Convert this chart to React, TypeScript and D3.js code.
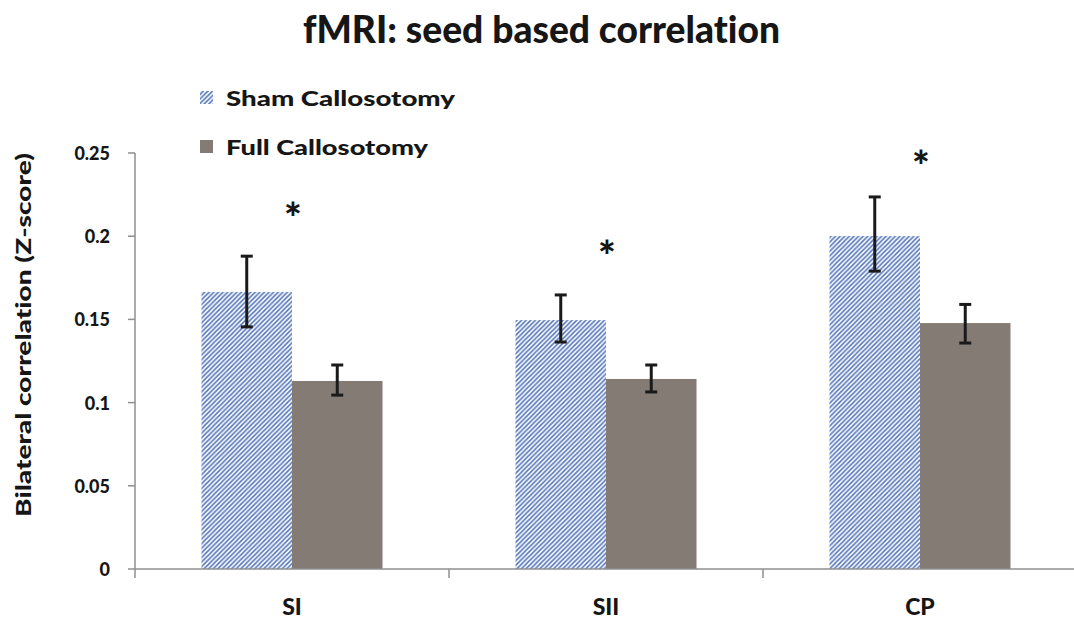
import React from "react";
import * as d3 from "d3";

const categories = ["SI", "SII", "CP"];
const seriesNames = ["Sham Callosotomy", "Full Callosotomy"];
const shamValues = [0.1665, 0.1496, 0.2001];
const shamErrLow = [0.1455, 0.1364, 0.179];
const shamErrHigh = [0.188, 0.1647, 0.2236];
const fullValues = [0.113, 0.1142, 0.1478];
const fullErrLow = [0.1045, 0.1064, 0.1358];
const fullErrHigh = [0.1226, 0.1226, 0.159];
const yTicks = [0, 0.05, 0.1, 0.15, 0.2, 0.25];
const starValues = [0.2163, 0.1935, 0.2476];

const W = 1074;
const H = 619;
const FONT = "Lato, 'Open Sans', sans-serif";
const GRAY = "#847b74";
const BLUE = "#5b7bbd";
const AXIS = "#8f8f8f";
const INK = "#161616";
const txtStyle: React.CSSProperties = { fontVariantLigatures: "none", fontKerning: "normal" };

export default function App() {
  const x0 = 135;
  const catW = 314;
  const x = d3.scaleBand<string>().domain(categories).range([x0, x0 + catW * 3]).paddingInner(0).paddingOuter(0);
  const y = d3.scaleLinear().domain([0, 0.25]).range([569, 153]);
  const barW = 90.5;
  const groupPad = (catW - 2 * barW) / 2;

  const fmt = (v: number) => (v === 0 ? "0" : String(+v.toFixed(2)));

  const errBar = (cx: number, lo: number, hi: number, key: string) => (
    <g key={key} stroke="#1a1a1a" strokeWidth={3}>
      <line x1={cx} x2={cx} y1={y(hi)} y2={y(lo)} />
      <line x1={cx - 6} x2={cx + 6} y1={y(hi)} y2={y(hi)} />
      <line x1={cx - 6} x2={cx + 6} y1={y(lo)} y2={y(lo)} />
    </g>
  );

  return (
    <svg width={W} height={H} style={{ position: "absolute", left: 0, top: 0, background: "#fff" }}>
      <defs>
        <pattern id="hatch" patternUnits="userSpaceOnUse" width={4.6} height={4.6}>
          <rect width={4.6} height={4.6} fill="#fff" />
          <path d="M-1.15,1.15 L1.15,-1.15 M0,4.6 L4.6,0 M3.45,5.75 L5.75,3.45" stroke={BLUE} strokeWidth={1.7} />
        </pattern>
      </defs>
      <rect width={W} height={H} fill="#fff" />
      <text
        x={303}
        y={43}
        textLength={477}
        lengthAdjust="spacingAndGlyphs"
        fontFamily={FONT}
        fontWeight={900}
        fontSize={37}
        fill={INK}
        style={txtStyle}
      >
        fMRI: seed based correlation
      </text>

      {/* legend */}
      <rect x={200} y={91} width={13} height={13} fill="url(#hatch)" />
      <text x={226} y={106} textLength={229} lengthAdjust="spacingAndGlyphs" fontFamily={FONT} fontWeight={900} fontSize={21} fill={INK} style={txtStyle}>
        {seriesNames[0]}
      </text>
      <rect x={200} y={140} width={13} height={13} fill={GRAY} />
      <text x={226} y={155} textLength={202} lengthAdjust="spacingAndGlyphs" fontFamily={FONT} fontWeight={900} fontSize={21} fill={INK} style={txtStyle}>
        {seriesNames[1]}
      </text>

      {/* y axis */}
      <line x1={x0} x2={x0} y1={y(0.25)} y2={y(0) + 9} stroke={AXIS} strokeWidth={1.5} />
      {yTicks.map((t) => (
        <g key={t}>
          <line x1={x0 - 7} x2={x0} y1={y(t)} y2={y(t)} stroke={AXIS} strokeWidth={1.5} />
          <text x={110} y={y(t) + 7} textAnchor="end" fontFamily={FONT} fontWeight={900} fontSize={18} fill={INK} style={txtStyle}>
            {fmt(t)}
          </text>
        </g>
      ))}
      <text
        transform={`translate(31, ${517}) rotate(-90)`}
        textLength={364}
        lengthAdjust="spacingAndGlyphs"
        fontFamily={FONT}
        fontWeight={900}
        fontSize={21}
        fill={INK}
        style={txtStyle}
      >
        Bilateral correlation (Z-score)
      </text>

      {/* bars */}
      {categories.map((c, i) => {
        const gx = (x(c) as number) + groupPad;
        return (
          <g key={c}>
            <rect x={gx} y={y(shamValues[i])} width={barW} height={y(0) - y(shamValues[i])} fill="url(#hatch)" />
            <rect x={gx + barW} y={y(fullValues[i])} width={barW} height={y(0) - y(fullValues[i])} fill={GRAY} />
            {errBar(gx + barW / 2, shamErrLow[i], shamErrHigh[i], "s" + c)}
            {errBar(gx + barW * 1.5, fullErrLow[i], fullErrHigh[i], "f" + c)}
            <text
              x={gx + barW + 1}
              y={y(starValues[i]) + 24}
              textAnchor="middle"
              fontFamily={FONT}
              fontWeight={900}
              fontSize={42}
              fill={INK}
            >
              *
            </text>
            <text
              x={(x(c) as number) + catW / 2}
              y={615}
              textAnchor="middle"
              fontFamily={FONT}
              fontWeight={900}
              fontSize={23}
              fill={INK}
              style={txtStyle}
            >
              {c}
            </text>
          </g>
        );
      })}

      {/* x axis */}
      <line x1={x0} x2={W} y1={y(0)} y2={y(0)} stroke={AXIS} strokeWidth={1.5} />
      {[1, 2, 3].map((k) => (
        <line key={k} x1={x0 + catW * k} x2={x0 + catW * k} y1={y(0)} y2={y(0) + 9} stroke={AXIS} strokeWidth={1.5} />
      ))}
    </svg>
  );
}
